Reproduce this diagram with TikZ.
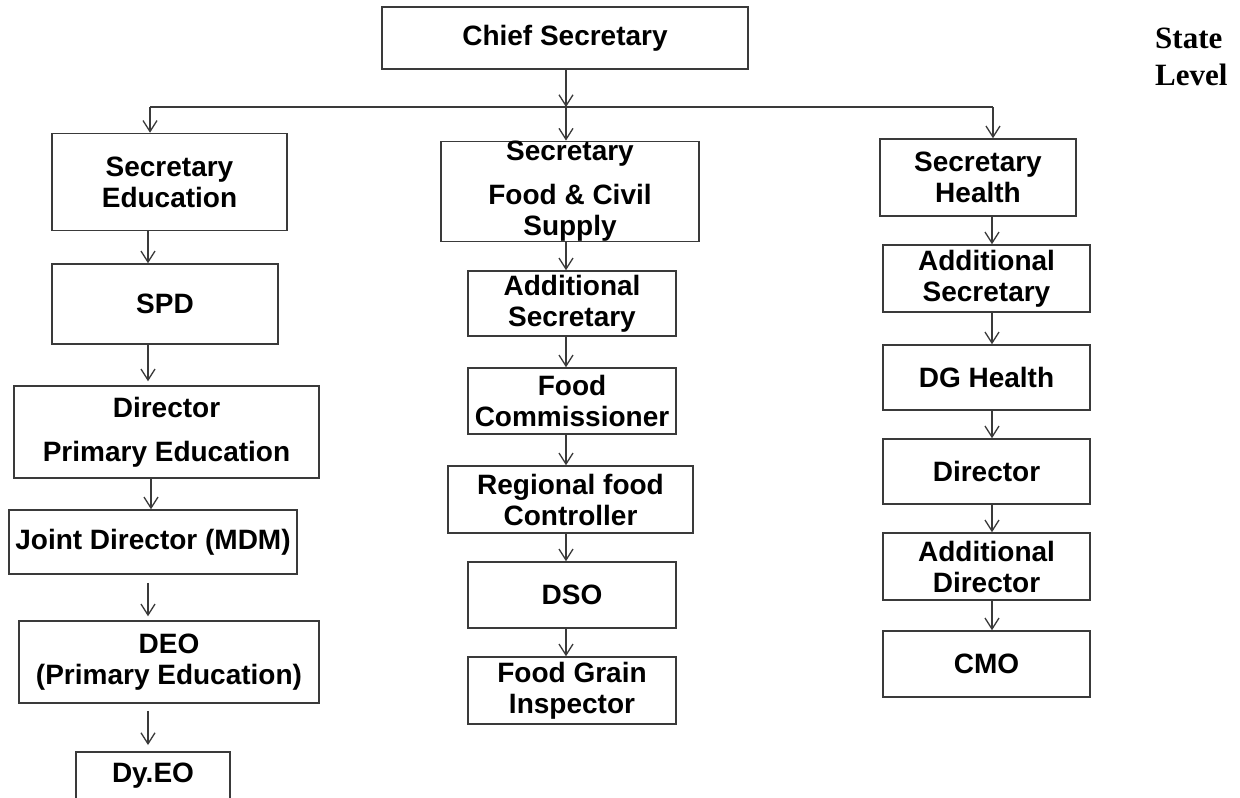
\documentclass[tikz,border=0pt]{standalone}
\usepackage{fontspec}
\setmainfont{Liberation Serif}
\setsansfont{Liberation Sans}
\usetikzlibrary{arrows.meta}
\definecolor{lineg}{HTML}{3A3A3A}
\begin{document}
\begin{tikzpicture}[x=1pt,y=-1pt,
  box/.style={draw=lineg, line width=1.5pt, rectangle, inner sep=0pt, align=center,
    font=\sffamily\bfseries\fontsize{28}{31}\selectfont, text=black},
  arr/.style={draw=lineg, line width=1.3pt, -{Straight Barb[length=11pt,width=14pt,line width=1.3pt]}},
  conn/.style={draw=lineg, line width=1.3pt}]
\useasboundingbox (0,0) rectangle (1240,798);
\clip (0,0) rectangle (1240,798);
\fill[white] (0,0) rectangle (1240,798);

% columns
\coordinate (xe) at (148,0);
\coordinate (xe2) at (151,0);
\coordinate (xm) at (566,0);
\coordinate (xh) at (992,0);

% top
\node[box, minimum width=366pt, minimum height=62pt] (chief) at (565,38) {Chief Secretary};
\node[font=\rmfamily\bfseries\fontsize{31}{37}\selectfont, align=left, anchor=north west, inner sep=0pt] (state) at (1155,28) {State\\Level};

% education column
\node[box, minimum width=235pt, minimum height=97pt] (sedu) at (169.5,182) {Secretary\\Education};
\node[box, minimum width=226pt, minimum height=80pt] (spd) at (165,304) {SPD};
\node[box, minimum width=305pt, minimum height=92pt] (dir) at (166.5,432) {Director\\[13pt]Primary Education};
\node[box, minimum width=288pt, minimum height=64pt] (jd) at (153,542) {Joint Director (MDM)};
\node[box, minimum width=300pt, minimum height=82pt] (deo) at (169,662) {DEO\\(Primary Education)};
\node[box, minimum width=154pt, minimum height=78pt, anchor=north] (dyeo) at (153,751) {Dy.EO\\[6pt]\mbox{}};

% food column
\node[box, minimum width=258pt, minimum height=97pt] (sfood) at (570,191.5) {Secretary\\[13pt]Food \& Civil\\Supply};
\node[box, minimum width=208pt, minimum height=65pt] (addsec) at (572,303.5) {Additional\\Secretary};
\node[box, minimum width=208pt, minimum height=66pt] (fcom) at (572,401) {Food\\Commissioner};
\node[box, minimum width=245pt, minimum height=67pt] (rfc) at (570.5,499.5) {Regional food\\Controller};
\node[box, minimum width=208pt, minimum height=66pt] (dso) at (572,595) {DSO};
\node[box, minimum width=208pt, minimum height=67pt] (fgi) at (572,690.5) {Food Grain\\Inspector};

% health column
\node[box, minimum width=196pt, minimum height=77pt] (shealth) at (978,177.5) {Secretary\\Health};
\node[box, minimum width=207pt, minimum height=67pt] (hadd) at (986.5,278.5) {Additional\\Secretary};
\node[box, minimum width=207pt, minimum height=65pt] (dg) at (986.5,377.5) {DG Health};
\node[box, minimum width=207pt, minimum height=65pt] (hdir) at (986.5,471.5) {Director};
\node[box, minimum width=207pt, minimum height=67pt] (hadir) at (986.5,566.5) {Additional\\Director};
\node[box, minimum width=207pt, minimum height=66pt] (cmo) at (986.5,664) {CMO};

% branching
\coordinate (bl) at (150,107);
\coordinate (bm) at (566,107);
\coordinate (br) at (993,107);
\draw[arr] (chief.south -| bm) -- (bm);
\draw[conn] (bl) -- (br);
\draw[arr] (bl) -- (sedu.north -| bl);
\draw[arr] (bm) -- (sfood.north -| bm);
\draw[arr] (br) -- (shealth.north -| br);

% education arrows
\draw[arr] (sedu.south -| xe) -- (spd.north -| xe);
\draw[arr, shorten >=4pt] (spd.south -| xe) -- (dir.north -| xe);
\draw[arr] (dir.south -| xe2) -- (jd.north -| xe2);
\draw[arr, shorten <=8pt, shorten >=4pt] (jd.south -| xe) -- (deo.north -| xe);
\draw[arr, shorten <=7pt, shorten >=6pt] (deo.south -| xe) -- (dyeo.north -| xe);

% food arrows
\draw[arr] (sfood.south -| xm) -- (addsec.north -| xm);
\draw[arr] (addsec.south -| xm) -- (fcom.north -| xm);
\draw[arr] (fcom.south -| xm) -- (rfc.north -| xm);
\draw[arr] (rfc.south -| xm) -- (dso.north -| xm);
\draw[arr] (dso.south -| xm) -- (fgi.north -| xm);

% health arrows
\draw[arr] (shealth.south -| xh) -- (hadd.north -| xh);
\draw[arr] (hadd.south -| xh) -- (dg.north -| xh);
\draw[arr] (dg.south -| xh) -- (hdir.north -| xh);
\draw[arr] (hdir.south -| xh) -- (hadir.north -| xh);
\draw[arr] (hadir.south -| xh) -- (cmo.north -| xh);
\end{tikzpicture}
\end{document}
